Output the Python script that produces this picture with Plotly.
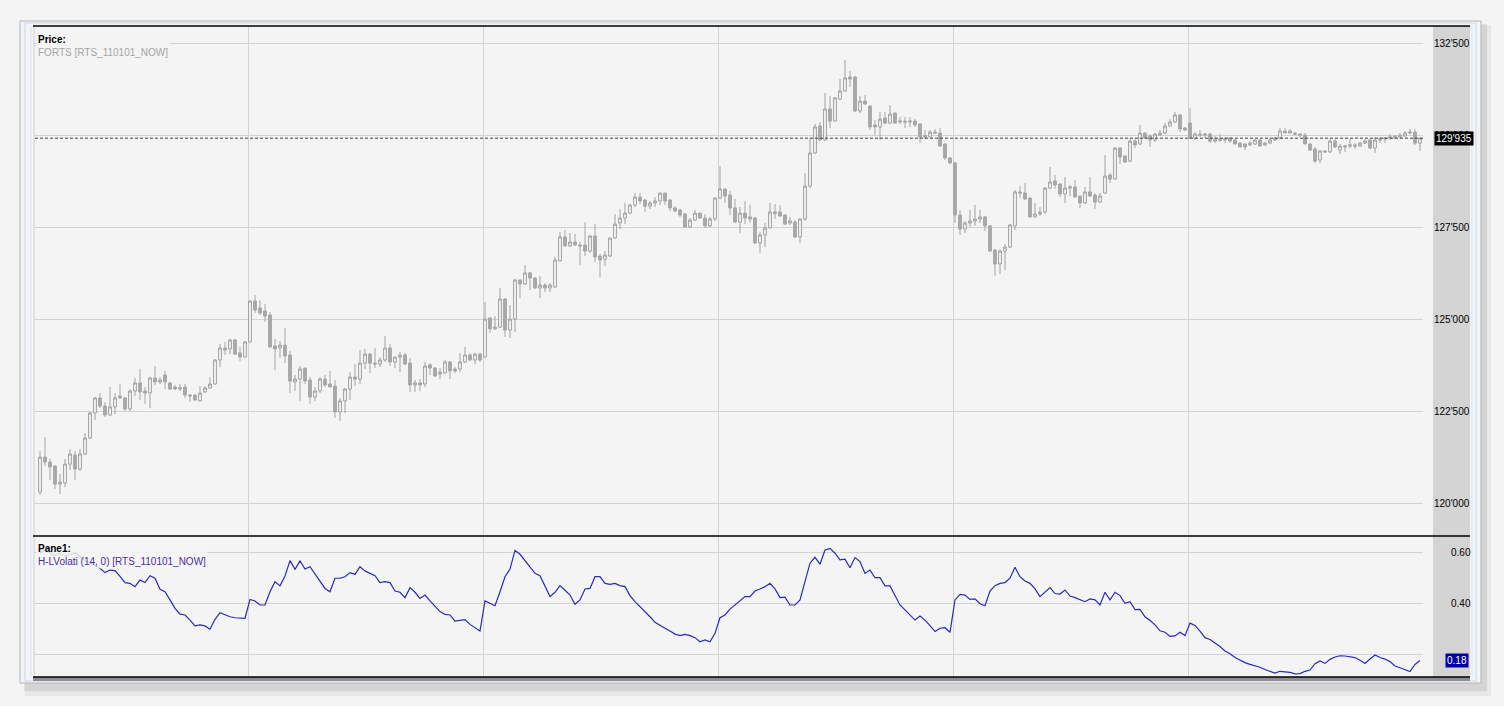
import plotly.graph_objects as go

W, H = 1504, 706

# price candles (RTS futures), one per bar
open_ = [120300, 121250, 121115, 121005, 120515, 120545, 121060, 121305, 120925, 121335,
         121770, 122450, 122860, 122640, 122395, 122615, 122915, 122860, 122560, 123050,
         123270, 123050, 123000, 123405, 123295, 123485, 123270, 123160, 123105, 123160,
         122940, 122940, 122780, 123025, 123130, 123240, 123895, 124220, 124195, 124440,
         124085, 123975, 124385, 125500, 125310, 125230, 125120, 124275, 124220, 124300,
         124030, 123295, 123375, 123675, 123350, 122885, 123050, 123375, 123240, 123185,
         122480, 122780, 123105, 123430, 123375, 123810, 124055, 123810, 123785, 123895,
         124220, 123840, 123975, 124030, 123810, 123215, 123270, 123240, 123760, 123675,
         123510, 123540, 123840, 123650, 123650, 123840, 124030, 123895, 124055, 123975,
         125040, 124740, 124790, 125555, 124710, 125010, 126070, 125965, 126265, 126125,
         125855, 125935, 125855, 125880, 126590, 127245, 127000, 127105, 127025, 127025,
         126860, 127270, 126725, 126640, 126725, 127215, 127625, 127760, 127895, 128115,
         128330, 128250, 128085, 128170, 128225, 128440, 128250, 128035, 127980, 127870,
         127515, 127705, 127895, 127760, 127545, 127735, 128305, 128550, 128385, 128035,
         127650, 127895, 127790, 127760, 127080, 127300, 127490, 127925, 127925, 127840,
         127625, 127650, 127245, 127735, 128630, 129530, 130265, 129885, 130730, 130400,
         131000, 131220, 131600, 131600, 130675, 130945, 130810, 130295, 130240, 130485,
         130345, 130620, 130375, 130400, 130375, 130400, 130320, 129965, 129965, 130100,
         130075, 129775, 129395, 129260, 127840, 127460, 127625, 127680, 127735, 127790,
         127545, 126890, 126510, 126860, 126970, 127545, 128470, 128440, 128305, 127790,
         127870, 127925, 128575, 128770, 128685, 128415, 128575, 128605, 128360, 128170,
         128470, 128385, 128195, 128440, 128930, 128820, 129665, 129450, 129310, 129855,
         129775, 130075, 129995, 129885, 130020, 130075, 130265, 130375, 130565, 130210,
         130345, 129940, 130045, 130020, 130045, 129855, 129910, 129885, 129940, 129885,
         129800, 129775, 129750, 129775, 129885, 129750, 129800, 129885, 129940, 130130,
         130075, 130075, 130045, 130020, 129775, 129640, 129340, 129585, 129560, 129855,
         129610, 129695, 129720, 129750, 129720, 129800, 129885, 129665, 129885, 129910,
         129940, 129940, 129965, 129995, 130075, 130100, 129800]
high = [121415, 121795, 121200, 121035, 120790, 121200, 121470, 121415, 121470, 121905,
        122480, 122885, 122995, 122750, 123160, 122995, 123240, 122885, 123105, 123405,
        123650, 123160, 123430, 123730, 123430, 123595, 123295, 123215, 123240, 123240,
        122970, 122970, 123185, 123185, 123430, 123920, 124330, 124385, 124465, 124465,
        124250, 124410, 125510, 125665, 125530, 125420, 125200, 124465, 124410, 124765,
        124140, 123485, 123730, 123680, 123430, 123160, 123430, 123485, 123595, 123350,
        122860, 123130, 123565, 123785, 124165, 124195, 124085, 124220, 123975, 124545,
        124330, 123980, 124110, 124085, 123950, 123350, 123375, 123840, 123810, 123705,
        123675, 123895, 123865, 123705, 124085, 124250, 124085, 124085, 124085, 125475,
        125065, 125090, 125855, 125580, 125390, 126100, 126100, 126480, 126290, 126155,
        126180, 125990, 125990, 126700, 127380, 127435, 127350, 127325, 127105, 127650,
        127300, 127595, 126780, 126860, 127220, 127870, 128005, 128170, 128140, 128440,
        128440, 128280, 128225, 128330, 128445, 128445, 128280, 128085, 128005, 127895,
        127760, 127980, 127900, 127870, 127790, 128330, 129175, 128575, 128495, 128280,
        128060, 128225, 128115, 127790, 127380, 127625, 128170, 128140, 128115, 127870,
        127790, 127705, 127740, 128985, 129940, 130320, 130375, 131165, 131085, 131055,
        131545, 132065, 131765, 131630, 131085, 131110, 130835, 130430, 130645, 130645,
        130835, 130625, 130510, 130510, 130510, 130455, 130345, 130155, 130155, 130185,
        130210, 129800, 129420, 129285, 127980, 127680, 127980, 128115, 127980, 127815,
        127570, 126915, 126915, 127050, 127595, 128525, 128630, 128715, 128330, 128170,
        128060, 128605, 129150, 128930, 128715, 128875, 128660, 128795, 128365, 128605,
        128875, 128440, 128440, 129475, 128985, 129695, 129695, 129475, 129940, 129910,
        130295, 130080, 130045, 130075, 130155, 130345, 130455, 130645, 130590, 130240,
        130755, 130100, 130155, 130075, 130075, 129995, 130045, 129965, 129965, 129910,
        129830, 129800, 129855, 129910, 129910, 129830, 129940, 129965, 130210, 130210,
        130185, 130100, 130075, 130075, 129800, 129695, 129610, 129610, 129940, 129910,
        129775, 129750, 129910, 129800, 129830, 129910, 129910, 129965, 129965, 129965,
        130045, 130020, 130075, 130130, 130185, 130185, 129940]
low = [120220, 121005, 120625, 120380, 120245, 120435, 120900, 120625, 120870, 121305,
       121745, 122260, 122585, 122340, 122380, 122425, 122830, 122505, 122505, 122915,
       122805, 122695, 122585, 123215, 123240, 123105, 123075, 123075, 123050, 122860,
       122750, 122780, 122760, 122995, 123120, 123230, 123705, 124030, 124055, 124030,
       123865, 123960, 124375, 125175, 125120, 124930, 124220, 123620, 123950, 123810,
       122995, 123050, 122780, 123240, 122695, 122780, 122995, 123160, 123150, 122315,
       122235, 122450, 122805, 123185, 123240, 123650, 123540, 123675, 123705, 123840,
       123730, 123675, 123565, 123755, 123025, 123025, 123050, 123160, 123485, 123430,
       123375, 123530, 123375, 123540, 123565, 123810, 123865, 123785, 123840, 123960,
       124630, 124710, 124765, 124520, 124495, 124655, 125580, 125935, 125800, 125830,
       125580, 125745, 125745, 125870, 126580, 126990, 126970, 127000, 126480, 126725,
       126810, 126560, 126155, 126450, 126700, 127190, 127460, 127595, 127870, 128060,
       128140, 127925, 128005, 128060, 128115, 128115, 127950, 127925, 127790, 127490,
       127490, 127680, 127755, 127490, 127515, 127680, 128280, 128170, 127840, 127625,
       127350, 127595, 127625, 127070, 126810, 126970, 127480, 127735, 127790, 127570,
       127570, 127215, 127080, 127680, 128575, 129500, 129855, 129855, 130210, 130390,
       130975, 131200, 131330, 130650, 130620, 130835, 130155, 130020, 129885, 130320,
       130320, 130340, 130320, 130210, 130240, 130240, 129805, 129910, 129960, 130045,
       129695, 129340, 129230, 127625, 127300, 127350, 127515, 127545, 127625, 127405,
       126850, 126180, 126235, 126345, 126940, 127435, 128305, 128250, 127780, 127780,
       127815, 127870, 128550, 128550, 128335, 128170, 128360, 128305, 128035, 128140,
       128335, 128005, 128170, 128415, 128715, 128810, 129230, 129260, 129285, 129665,
       129750, 129910, 129695, 129830, 129995, 130045, 130260, 130345, 130100, 130130,
       129910, 129885, 129965, 129940, 129805, 129805, 129830, 129805, 129805, 129770,
       129690, 129610, 129720, 129750, 129715, 129720, 129775, 129855, 129910, 130070,
       130070, 130020, 129965, 129770, 129585, 129260, 129260, 129530, 129530, 129665,
       129500, 129560, 129665, 129640, 129695, 129775, 129640, 129530, 129805, 129805,
       129885, 129935, 129940, 129965, 130045, 129750, 129585]
close = [121250, 121115, 120980, 120515, 120570, 121060, 121335, 120925, 121335, 121770,
         122450, 122860, 122640, 122395, 122615, 122860, 122860, 122560, 123050, 123270,
         123025, 122995, 123405, 123295, 123350, 123295, 123105, 123105, 123135, 122940,
         122915, 122805, 122995, 123130, 123240, 123895, 124220, 124165, 124440, 124055,
         123975, 124385, 125500, 125255, 125175, 125090, 124250, 124195, 124300, 124005,
         123320, 123375, 123650, 123320, 122885, 123050, 123375, 123215, 123160, 122480,
         122780, 123105, 123430, 123375, 123810, 124055, 123810, 123785, 123895, 124220,
         123840, 123975, 124030, 123785, 123215, 123270, 123215, 123730, 123675, 123460,
         123565, 123840, 123595, 123595, 123840, 124030, 123895, 124055, 123895, 125010,
         124740, 124790, 125555, 124710, 125010, 126070, 125965, 126265, 126125, 125855,
         125935, 125855, 125935, 126615, 127245, 127000, 127105, 127025, 127000, 126860,
         127270, 126700, 126615, 126750, 127215, 127595, 127760, 127895, 128115, 128330,
         128225, 128085, 128170, 128225, 128440, 128225, 128035, 127950, 127840, 127515,
         127705, 127895, 127760, 127545, 127735, 128305, 128550, 128360, 128035, 127650,
         127895, 127760, 127735, 127080, 127300, 127490, 127925, 127880, 127815, 127595,
         127680, 127245, 127735, 128630, 129530, 130240, 129885, 130730, 130400, 131030,
         131220, 131575, 131545, 130675, 130945, 130865, 130240, 130240, 130455, 130345,
         130590, 130345, 130400, 130375, 130400, 130295, 129965, 129995, 130100, 130075,
         129720, 129395, 129260, 127840, 127460, 127625, 127680, 127735, 127790, 127545,
         126860, 126510, 126860, 126970, 127570, 128470, 128440, 128280, 127790, 127870,
         127925, 128575, 128740, 128660, 128415, 128575, 128605, 128335, 128170, 128470,
         128360, 128195, 128360, 128905, 128820, 129665, 129420, 129285, 129855, 129750,
         130075, 129940, 129885, 130045, 130075, 130265, 130375, 130565, 130185, 130155,
         129940, 130045, 130020, 130045, 129855, 129910, 129885, 129910, 129855, 129775,
         129695, 129695, 129800, 129885, 129720, 129800, 129885, 129940, 130130, 130075,
         130130, 130045, 130020, 129775, 129610, 129310, 129585, 129560, 129855, 129695,
         129720, 129720, 129750, 129720, 129800, 129855, 129665, 129885, 129910, 129940,
         129965, 129990, 130020, 130075, 130100, 129800, 129935]

# H-L volatility (14, 0)
hl_volat = [0.600, 0.612, 0.600, 0.590, 0.598, 0.588, 0.594, 0.600, 0.585, 0.570,
            0.560, 0.552, 0.540, 0.523, 0.533, 0.531, 0.508, 0.484, 0.481, 0.468,
            0.494, 0.484, 0.511, 0.501, 0.458, 0.448, 0.416, 0.383, 0.360, 0.357,
            0.337, 0.314, 0.318, 0.314, 0.301, 0.340, 0.366, 0.357, 0.350, 0.346,
            0.345, 0.344, 0.418, 0.412, 0.396, 0.396, 0.448, 0.487, 0.471, 0.510,
            0.570, 0.536, 0.569, 0.537, 0.546, 0.516, 0.488, 0.461, 0.448, 0.501,
            0.501, 0.507, 0.523, 0.516, 0.546, 0.529, 0.520, 0.511, 0.484, 0.488,
            0.484, 0.451, 0.446, 0.425, 0.464, 0.446, 0.422, 0.435, 0.412, 0.391,
            0.370, 0.359, 0.357, 0.333, 0.336, 0.339, 0.320, 0.307, 0.294, 0.412,
            0.403, 0.393, 0.448, 0.507, 0.537, 0.610, 0.595, 0.570, 0.545, 0.520,
            0.511, 0.471, 0.429, 0.446, 0.472, 0.454, 0.435, 0.399, 0.416, 0.459,
            0.461, 0.507, 0.507, 0.481, 0.477, 0.481, 0.472, 0.468, 0.433, 0.409,
            0.390, 0.373, 0.350, 0.328, 0.315, 0.305, 0.294, 0.282, 0.276, 0.281,
            0.276, 0.268, 0.252, 0.259, 0.252, 0.285, 0.346, 0.357, 0.380, 0.396,
            0.412, 0.429, 0.429, 0.451, 0.459, 0.468, 0.481, 0.459, 0.425, 0.427,
            0.396, 0.396, 0.416, 0.488, 0.560, 0.583, 0.556, 0.612, 0.618, 0.599,
            0.573, 0.576, 0.542, 0.582, 0.566, 0.520, 0.533, 0.503, 0.503, 0.471,
            0.471, 0.433, 0.396, 0.377, 0.357, 0.337, 0.353, 0.337, 0.315, 0.292,
            0.305, 0.307, 0.289, 0.416, 0.438, 0.435, 0.418, 0.420, 0.401, 0.393,
            0.451, 0.472, 0.481, 0.484, 0.501, 0.544, 0.507, 0.490, 0.481, 0.459,
            0.429, 0.446, 0.464, 0.441, 0.439, 0.455, 0.431, 0.425, 0.417, 0.409,
            0.420, 0.416, 0.396, 0.446, 0.416, 0.446, 0.433, 0.403, 0.409, 0.378,
            0.379, 0.350, 0.335, 0.318, 0.295, 0.289, 0.273, 0.275, 0.289, 0.276,
            0.325, 0.316, 0.294, 0.268, 0.261, 0.248, 0.233, 0.216, 0.205, 0.190,
            0.179, 0.170, 0.163, 0.158, 0.152, 0.143, 0.136, 0.129, 0.136, 0.135,
            0.132, 0.126, 0.127, 0.136, 0.141, 0.166, 0.177, 0.167, 0.183, 0.192,
            0.197, 0.196, 0.193, 0.190, 0.179, 0.167, 0.184, 0.200, 0.190, 0.184,
            0.174, 0.157, 0.150, 0.142, 0.135, 0.163, 0.178]

bars = list(range(len(close)))
session_breaks = [41.7, 88.7, 135.7, 182.7, 229.7]
price_ticks = [120000, 122500, 125000, 127500, 130000, 132500]
vol_ticks = [0.2, 0.4, 0.6]


def X(px):
    return px / W


def Y(py):
    return 1 - py / H


def fmt_price(v):
    return f"{v:,}".replace(",", "'")


# the last-value box hides the lowest indicator label, as in the terminal
vol_labels = ["" if abs(v - hl_volat[-1]) < 0.05 else f"{v:.2f}" for v in vol_ticks]

fig = go.Figure()

fig.add_trace(go.Candlestick(
    x=bars, open=open_, high=high, low=low, close=close,
    increasing=dict(line=dict(color="#a0a0a0", width=1), fillcolor="#f4f4f4"),
    decreasing=dict(line=dict(color="#a6a6a6", width=1), fillcolor="#a8a8a8"),
    whiskerwidth=0, hoverinfo="skip", xaxis="x", yaxis="y",
))

fig.add_trace(go.Scatter(
    x=bars, y=hl_volat, mode="lines", xaxis="x2", yaxis="y2",
    line=dict(color="#2a2ab4", width=1.2), hoverinfo="skip",
))

grid = "#d3d3d3"
xdom = [X(35), X(1423)]

fig.update_layout(
    width=W, height=H,
    margin=dict(l=0, r=0, t=0, b=0),
    paper_bgcolor="#f4f4f4",
    plot_bgcolor="rgba(0,0,0,0)",
    showlegend=False,
    boxgap=0.2,
    font=dict(family="Liberation Sans", size=10, color="#000000"),
    xaxis=dict(domain=xdom, range=[-1, 276.6], anchor="y",
               tickvals=session_breaks, showticklabels=False, ticks="",
               showgrid=True, gridcolor=grid, zeroline=False, showline=False,
               rangeslider=dict(visible=False)),
    xaxis2=dict(domain=xdom, matches="x", anchor="y2",
                tickvals=session_breaks, showticklabels=False, ticks="",
                showgrid=True, gridcolor=grid, zeroline=False, showline=False),
    yaxis=dict(domain=[Y(535), Y(27)], range=[119129, 132962],
               anchor="free", position=X(1433), side="right",
               tickvals=price_ticks, ticktext=[fmt_price(v) for v in price_ticks],
               ticks="", showgrid=True, gridcolor=grid, zeroline=False, showline=False,
               tickfont=dict(size=10, color="#000000")),
    yaxis2=dict(domain=[Y(677), Y(537)], range=[0.1137, 0.6627],
                anchor="free", position=X(1433), side="right",
                tickvals=vol_ticks, ticktext=vol_labels,
                ticks="", ticklabelstandoff=17, showgrid=True, gridcolor=grid,
                zeroline=False, showline=False,
                tickfont=dict(size=10, color="#000000")),
)

shapes = [
    # window shadow and frame
    dict(type="rect", xref="paper", yref="paper", layer="below",
         x0=X(25), x1=X(1491), y0=Y(25), y1=Y(696),
         fillcolor="rgba(0,0,0,0.05)", line=dict(width=0)),
    dict(type="rect", xref="paper", yref="paper", layer="below",
         x0=X(24), x1=X(1487), y0=Y(24), y1=Y(691),
         fillcolor="rgba(0,0,0,0.08)", line=dict(width=0)),
    dict(type="rect", xref="paper", yref="paper", layer="below",
         x0=X(20), x1=X(1481), y0=Y(21), y1=Y(683),
         fillcolor="#f4f4f4", line=dict(color="#b4b4b4", width=1)),
    dict(type="rect", xref="paper", yref="paper", layer="below",
         x0=X(25), x1=X(1476), y0=Y(23), y1=Y(681),
         line=dict(color="#c6d6ee", width=1)),
    dict(type="line", xref="paper", yref="paper", layer="below",
         x0=X(31), x1=X(31), y0=Y(26), y1=Y(677),
         line=dict(color="#dbe5f3", width=1)),
    dict(type="line", xref="paper", yref="paper", layer="below",
         x0=X(1472), x1=X(1472), y0=Y(26), y1=Y(677),
         line=dict(color="#dbe5f3", width=1)),
    # price scale strip
    dict(type="rect", xref="paper", yref="paper", layer="below",
         x0=X(1433), x1=X(1470), y0=Y(26), y1=Y(677),
         fillcolor="#d4d4d4", line=dict(width=0)),
    dict(type="line", xref="paper", yref="paper", layer="below",
         x0=X(34), x1=X(34), y0=Y(26), y1=Y(677),
         line=dict(color="#d0d0d0", width=1)),
    dict(type="rect", xref="paper", yref="paper", layer="below",
         x0=X(33), x1=X(1470), y0=Y(677), y1=Y(681),
         fillcolor="#8e8e8e", line=dict(width=0)),
    # pane borders
    dict(type="line", xref="paper", yref="paper", x0=X(33), x1=X(1470),
         y0=Y(26), y1=Y(26), line=dict(color="#000000", width=1.5)),
    dict(type="line", xref="paper", yref="paper", x0=X(33), x1=X(1470),
         y0=Y(536), y1=Y(536), line=dict(color="#000000", width=1.5)),
    dict(type="line", xref="paper", yref="paper", x0=X(33), x1=X(1470),
         y0=Y(677), y1=Y(677), line=dict(color="#000000", width=1.5)),
    # last price line
    dict(type="line", xref="paper", yref="y", x0=X(35), x1=X(1423),
         y0=close[-1], y1=close[-1],
         line=dict(color="#404040", width=1, dash="3px,2px")),
]
fig.update_layout(shapes=shapes)

annotations = [
    dict(xref="paper", yref="paper", x=X(36), y=Y(32), xanchor="left", yanchor="top",
         align="left", showarrow=False, bgcolor="#f4f4f4", borderpad=1,
         text="<b>Price:</b><br><span style='color:#a4a4a4'>FORTS [RTS_110101_NOW]</span>",
         font=dict(size=10, color="#000000")),
    dict(xref="paper", yref="paper", x=X(36), y=Y(541), xanchor="left", yanchor="top",
         align="left", showarrow=False, bgcolor="rgba(244,244,244,0.85)", borderpad=1,
         text="<b>Pane1:</b><br><span style='color:#4a2c9c'>H-LVolati (14, 0) [RTS_110101_NOW]</span>",
         font=dict(size=10, color="#000000")),
    dict(xref="paper", yref="y", x=X(1434), y=close[-1], xanchor="left", yanchor="middle",
         showarrow=False, bgcolor="#000000", borderpad=1,
         text=fmt_price(close[-1]), font=dict(size=10, color="#ffffff")),
    dict(xref="paper", yref="y2", x=X(1469), y=hl_volat[-1], xanchor="right", yanchor="middle",
         showarrow=False, bgcolor="#0000a8", borderpad=1,
         text=f"{hl_volat[-1]:.2f}", font=dict(size=10, color="#ffffff")),
]
fig.update_layout(annotations=annotations)

# the page's default 8px body margin would shift the whole chart
fig.write_html("out.html", config={"displayModeBar": False},
               post_script="document.body.style.margin='0px';")
